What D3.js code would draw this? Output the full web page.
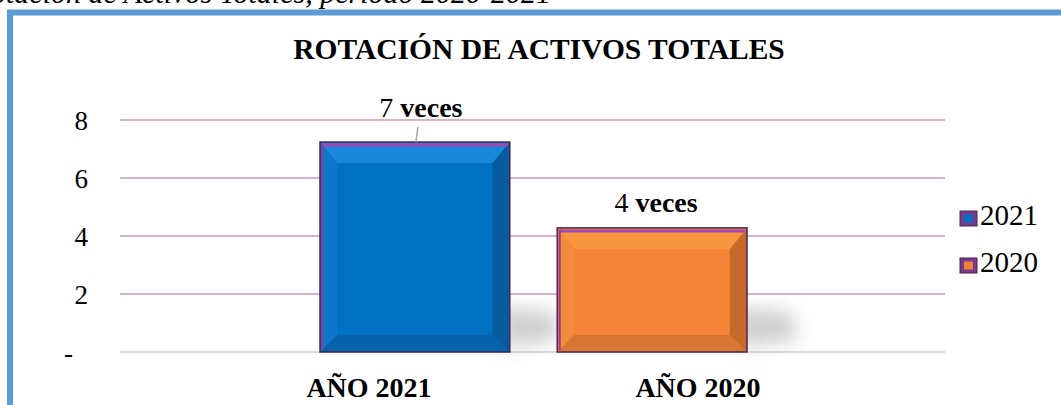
<!DOCTYPE html>
<html>
<head>
<meta charset="utf-8">
<script src="https://cdn.jsdelivr.net/npm/d3@7"></script>
<style>
  html, body { margin: 0; padding: 0; background: #fff; }
  svg { display: block; font-family: "Liberation Serif", "Times New Roman", serif; }
</style>
</head>
<body>
<div id="canvas"></div>
<script>
"use strict"

/* Chart data */
let categories = ["AÑO 2021", "AÑO 2020"];
let seriesNames = ["2021", "2020"];
let values = [7.24, 4.28];
let valueLabels = ["7", "4"];
let yTicks = [0, 2, 4, 6, 8];

/* Drawing configuration */
let svgWidth = 1061;
let svgHeight = 405;
let plotLeft = 120;
let plotRight = 945;
let plotTop = 120;
let plotBottom = 352;

let faces = [
    { main: "#0070c2", top: "#1788da", left: "#0a79c9", right: "#075b9e", bottom: "#0663aa" },
    { main: "#f38337", top: "#f8953f", left: "#f48b3b", right: "#c7692b", bottom: "#d97532" }
];

let svg = d3.select("#canvas")
    .append("svg")
    .attr("width", svgWidth)
    .attr("height", svgHeight)
    .attr("font-family", "Liberation Serif");

let defs = svg.append("defs");
defs.append("filter")
    .attr("id", "blur")
    .attr("x", "-50%").attr("y", "-50%")
    .attr("width", "200%").attr("height", "200%")
    .append("feGaussianBlur")
    .attr("stdDeviation", 9);

/* Caption of the figure, cut off at the top */
svg.append("text")
    .attr("x", 551)
    .attr("y", 3)
    .attr("text-anchor", "end")
    .attr("font-style", "italic")
    .attr("font-size", 30)
    .text("Figura 5. Rotación de Activos Totales, periodo 2020-2021");

/* Blue frame */
svg.append("rect")
    .attr("x", 10)
    .attr("y", 12.5)
    .attr("width", 1100)
    .attr("height", 500)
    .attr("fill", "none")
    .attr("stroke", "#5b9bd5")
    .attr("stroke-width", 6);

/* Title */
svg.append("text")
    .attr("x", 539)
    .attr("y", 59)
    .attr("text-anchor", "middle")
    .attr("font-weight", "bold")
    .attr("font-size", 29.5)
    .text("ROTACIÓN DE ACTIVOS TOTALES");

/* Scales */
let y = d3.scaleLinear()
    .domain([0, 8])
    .range([plotBottom, plotTop]);

let x = d3.scaleBand()
    .domain(categories)
    .range([320, 747])
    .paddingInner(0.2);

let xLabel = d3.scalePoint()
    .domain(categories)
    .range([369, 698]);

/* Gridlines */
svg.selectAll(".grid")
    .data(yTicks)
    .join("line")
    .attr("class", "grid")
    .attr("x1", plotLeft)
    .attr("x2", plotRight)
    .attr("y1", d => y(d))
    .attr("y2", d => y(d))
    .attr("stroke", d => d === 0 ? "#d9d9d9" : "#d8b4cb")
    .attr("stroke-width", 2);

/* Y axis */
let yAxis = svg.append("g")
    .attr("transform", `translate(${plotLeft},0)`)
    .call(d3.axisLeft(y)
        .tickValues(yTicks)
        .tickSize(0)
        .tickPadding(32)
        .tickFormat(d => d === 0 ? "-" : d));
yAxis.select(".domain").remove();
yAxis.attr("font-family", "Liberation Serif");
yAxis.selectAll("text")
    .attr("font-size", 27)
    .attr("fill", "#000")
    .attr("dy", "0.35em")
    .attr("dx", d => d === 0 ? -15 : 0);

/* Shadows */
svg.selectAll(".shadow")
    .data(values)
    .join("polygon")
    .attr("class", "shadow")
    .attr("points", (d, i) => {
        let x0 = x(categories[i]) + x.bandwidth() - 10;
        let x1 = x(categories[i]) + x.bandwidth() + 45;
        return [[x0, plotBottom - 4], [x0, plotBottom - 45], [x1, plotBottom - 40], [x1 + 5, plotBottom - 12]].join(" ");
    })
    .attr("fill", "#a8a8a8")
    .attr("opacity", 0.55)
    .attr("filter", "url(#blur)");

/* Bars with bevel */
let bevel = 17;
let bars = svg.selectAll(".bar")
    .data(values)
    .join("g")
    .attr("class", "bar");

bars.each(function (d, i) {
    let g = d3.select(this);
    let x0 = x(categories[i]);
    let x1 = x0 + x.bandwidth();
    let y0 = y(d);
    let y1 = y(0);
    let b = bevel;
    let f = faces[i];
    g.append("rect")
        .attr("x", x0).attr("y", y0)
        .attr("width", x1 - x0).attr("height", y1 - y0)
        .attr("fill", f.main);
    g.append("polygon")
        .attr("points", [[x0, y0], [x1, y0], [x1 - b, y0 + b + 4], [x0 + b, y0 + b + 4]].join(" "))
        .attr("fill", f.top);
    g.append("polygon")
        .attr("points", [[x0, y0], [x0 + b, y0 + b + 4], [x0 + b, y1 - b], [x0, y1]].join(" "))
        .attr("fill", f.left);
    g.append("polygon")
        .attr("points", [[x1, y0], [x1, y1], [x1 - b, y1 - b], [x1 - b, y0 + b + 4]].join(" "))
        .attr("fill", f.right);
    g.append("polygon")
        .attr("points", [[x0, y1], [x0 + b, y1 - b], [x1 - b, y1 - b], [x1, y1]].join(" "))
        .attr("fill", f.bottom);
    g.append("line")
        .attr("x1", x0 + 2).attr("x2", x1 - 2)
        .attr("y1", y0 + 3).attr("y2", y0 + 3)
        .attr("stroke", "#a347b0")
        .attr("stroke-width", 3);
    g.append("line")
        .attr("x1", x0 + 2.5).attr("x2", x0 + 2.5)
        .attr("y1", y0 + 2).attr("y2", y1 - 2)
        .attr("stroke", "#8a3a9a")
        .attr("stroke-width", 2);
    g.append("rect")
        .attr("x", x0).attr("y", y0)
        .attr("width", x1 - x0).attr("height", y1 - y0)
        .attr("fill", "none")
        .attr("stroke", "#4a2358")
        .attr("stroke-width", 1.5);
});

/* Value labels */
let labelDx = [6, 4];
let labelDy = [-25, -16];

svg.append("line")
    .attr("x1", x(categories[0]) + x.bandwidth() / 2 + 3)
    .attr("x2", x(categories[0]) + x.bandwidth() / 2 + 1)
    .attr("y1", y(values[0]) - 15)
    .attr("y2", y(values[0]))
    .attr("stroke", "#a6a6a6")
    .attr("stroke-width", 1.5);

let valueText = svg.selectAll(".value")
    .data(values)
    .join("text")
    .attr("class", "value")
    .attr("x", (d, i) => x(categories[i]) + x.bandwidth() / 2 + labelDx[i])
    .attr("y", (d, i) => y(d) + labelDy[i])
    .attr("text-anchor", "middle")
    .attr("font-size", 28);
valueText.append("tspan").text((d, i) => valueLabels[i] + " ");
valueText.append("tspan").attr("font-weight", "bold").text("veces");

/* Category labels */
svg.selectAll(".cat")
    .data(categories)
    .join("text")
    .attr("class", "cat")
    .attr("x", d => xLabel(d))
    .attr("y", 397)
    .attr("text-anchor", "middle")
    .attr("font-weight", "bold")
    .attr("font-size", 28)
    .text(d => d);

/* Legend */
let legend = svg.selectAll(".legend")
    .data(seriesNames)
    .join("g")
    .attr("class", "legend")
    .attr("transform", (d, i) => `translate(960,${211 + i * 47})`);

legend.append("rect")
    .attr("width", 17).attr("height", 15)
    .attr("fill", "#7a3a8c");
legend.append("rect")
    .attr("x", 4).attr("y", 3.5)
    .attr("width", 9).attr("height", 8)
    .attr("fill", (d, i) => faces[i].main);
legend.append("rect")
    .attr("width", 17).attr("height", 15)
    .attr("fill", "none")
    .attr("stroke", "#4a2358")
    .attr("stroke-width", 1);
legend.append("text")
    .attr("x", 20)
    .attr("y", 14)
    .attr("font-size", 29)
    .text(d => d);
</script>
</body>
</html>
